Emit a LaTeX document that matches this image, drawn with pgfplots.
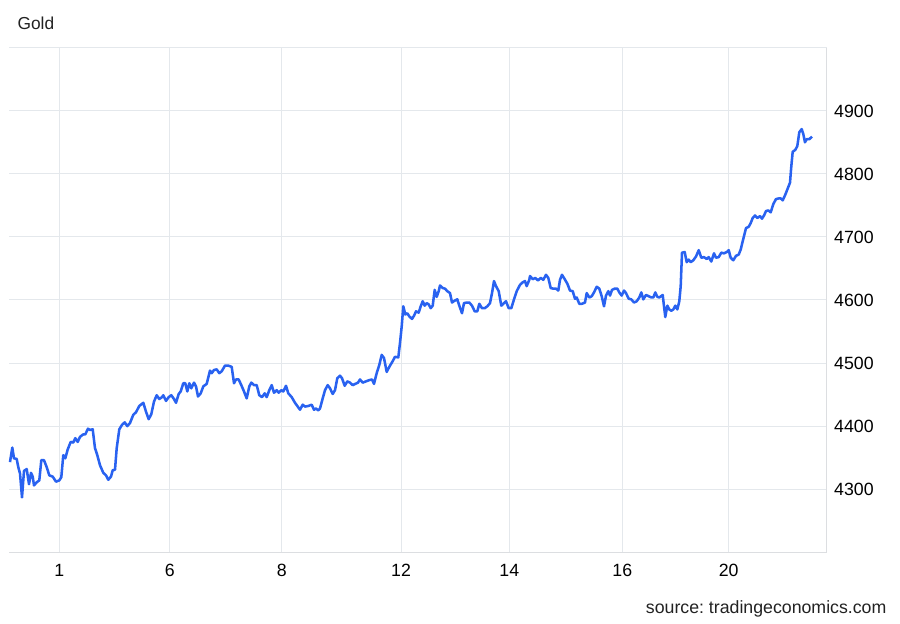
\documentclass[border=0pt]{standalone}
\usepackage{pgfplots}
\pgfplotsset{compat=1.18}
\usepackage{fontspec}
\setmainfont{Liberation Sans}
\frenchspacing
\definecolor{linec}{RGB}{41,98,240}
\definecolor{gridc}{RGB}{228,232,236}
\definecolor{axc}{RGB}{220,222,225}
\definecolor{txt}{RGB}{34,34,34}
\begin{document}
\begin{tikzpicture}
\path[use as bounding box] (0,0) rectangle (675pt,468pt);
\begin{axis}[
  at={(6.975pt,53.775pt)}, anchor=south west,
  scale only axis, width=612.9pt, height=378.45pt,
  xmin=9.3, xmax=826.5, ymin=4200, ymax=5000,
  axis x line*=bottom, axis y line*=right,
  axis line style={draw=axc, line width=0.75pt},
  x axis line style={-}, y axis line style={-},
  xtick={59.3,169.7,281.7,401,509.3,622.3,728.7},
  xticklabels={1,6,8,12,14,16,20},
  ytick={4300,4400,4500,4600,4700,4800,4900},
  extra y ticks={5000}, extra y tick labels={},
  extra y tick style={grid=major, major grid style={draw=gridc, line width=0.75pt}},
  major tick length=0pt,
  grid=major, major grid style={draw=gridc, line width=0.75pt},
  /pgf/number format/1000 sep={},
  /pgf/number format/assume math mode=true,
  tick label style={font=\fontsize{13.3}{16}\selectfont, text=black, inner sep=0pt},
  xticklabel style={anchor=base, yshift=-17.8pt},
  yticklabel style={anchor=base west, xshift=5.6pt, yshift=-4.8pt},
  clip=false,
]
\addplot[linec, line width=1.9pt, line join=round] table {
x y
10 4343
12.3 4366
14 4349
16.7 4348
18.3 4335
20 4325
22 4287
24 4329
26.7 4332
29 4308
31 4326
32.7 4320
34 4306
36.7 4311
39.3 4314
41.3 4346
44 4346
46.7 4335
49.3 4322
52.7 4320
56 4312
59.3 4314
61.3 4319
63.3 4354
65.3 4349
67.7 4363
70.7 4375
73.3 4374
75.3 4381
77.7 4375
80 4383
83.3 4387
85.3 4387
88 4396
90 4394
92.7 4395
95 4365
97.3 4354
100 4338
103.3 4326
106 4322
108.3 4315
111 4320
112.7 4330
115 4331
116.7 4365
119.3 4395
122 4402
124.7 4406
127.3 4400
130 4405
133.3 4418
136 4422
139.3 4432
143.3 4437
146 4423
148.7 4411
151.3 4419
154 4439
156.7 4449
159.3 4443
162 4446
163.3 4449
166 4440
168.7 4446
171.3 4449
174 4443
176 4437
178.7 4451
180.7 4455
183.3 4468
185.3 4468
187.3 4455
189.3 4468
191.3 4460
194 4469
196 4463
198 4447
200.7 4452
203.3 4463
206.7 4467
210 4488
211.7 4484
214 4489
216.7 4490
219.3 4484
221.7 4487
225 4496
228.3 4496
231.7 4494
234 4468
236 4474
238.7 4474
241.3 4465
244 4455
246.7 4444
249.3 4463
251.3 4469
254 4465
256.7 4465
259.3 4449
262 4446
264.7 4452
266.7 4446
269.3 4457
271.7 4465
274 4453
276.7 4457
278.7 4453
281.3 4457
283.3 4455
286 4464
288.3 4452
291.7 4446
295 4437
297.3 4432
300 4426
302.7 4434
305 4431
308.3 4432
311.7 4434
314 4426
316 4428
318.3 4425
320 4428
322.7 4444
325 4457
327.7 4465
330 4460
332.7 4451
335 4457
337.3 4476
340 4480
342 4476
344.7 4464
347.3 4471
350 4469
352.7 4465
355.3 4467
358 4469
360 4474
362.7 4469
366 4471
369.3 4473
372 4474
374 4467
376.7 4484
379.3 4497
381.7 4513
384 4508
386.7 4486
389.3 4494
392.7 4503
395 4510
398.3 4509
400 4532
401.7 4558
403.3 4590
405.3 4577
407.3 4579
409.3 4574
412 4570
414 4575
416 4582
418.7 4580
420.7 4590
422.7 4598
424.7 4591
426.7 4595
428.7 4593
430.7 4587
432.7 4591
434.7 4616
436.7 4605
438.7 4614
440 4623
442.7 4619
445 4618
447.3 4614
450 4611
452 4596
454.7 4599
457.3 4601
459.3 4591
462 4579
464 4595
466.7 4596
469.3 4596
472 4591
474.7 4582
477.3 4582
479.3 4594
482 4587
484.7 4587
487.3 4590
490 4595
492 4611
494 4630
496 4622
498.7 4614
501.3 4591
503.3 4594
506 4598
508.7 4587
511.3 4587
514 4601
516.7 4614
520 4624
522.7 4628
525 4630
526.7 4622
529.3 4632
530 4638
532.7 4633
535.3 4635
538 4631
540.7 4635
543.3 4632
546 4640
548.3 4635
550.7 4619
553.3 4618
556 4618
558.3 4615
560 4632
562 4640
564.7 4633
567.3 4626
570 4615
572.7 4614
575 4602
576.7 4604
579.3 4594
582 4594
585 4596
586.7 4611
589.3 4604
591.7 4606
594 4612
596.7 4621
599.3 4618
601.7 4606
604 4590
606 4607
608.3 4614
610 4607
612 4616
614.7 4618
617.3 4618
619.3 4612
621.7 4607
624 4615
626 4611
628.7 4602
631.3 4601
634 4596
636.7 4598
639.3 4604
641.3 4612
643.3 4601
646 4608
648.7 4606
651.3 4604
653.3 4604
655.3 4612
657.3 4605
659.3 4604
662.7 4608
664 4590
665.3 4573
667.3 4591
669.3 4585
671.3 4583
673.3 4585
675.3 4591
677.3 4585
679.3 4598
680.7 4622
682 4675
684.7 4676
686.7 4660
688.7 4664
690.7 4660
693.3 4663
696 4669
698.7 4679
701.3 4667
704 4668
706.7 4665
708.7 4668
711.3 4661
714 4674
716 4667
718.7 4668
721.3 4675
724 4674
726.7 4676
728.7 4679
730.7 4667
733.3 4663
736 4670
738.7 4672
740.7 4680
743.3 4697
746 4714
748.7 4716
750.7 4722
752.7 4730
755 4734
757.3 4730
760 4733
762 4729
764 4734
766 4741
768.3 4742
770.7 4739
773.3 4752
776 4760
778.7 4761
780.7 4761
782.7 4758
785.3 4767
788 4778
790 4786
791.3 4812
792.7 4835
795.3 4838
797.3 4844
799.3 4866
801.7 4871
803.3 4863
805 4850
806.7 4855
809.3 4855
812 4859
};
\end{axis}
\node[anchor=west, inner sep=0pt, text=txt, font=\fontsize{13}{16}\selectfont] at (13pt,450.5pt) {Gold};
\node[anchor=base east, inner sep=0pt, text=txt, font=\fontsize{13.3}{16}\selectfont] at (665pt,7.8pt) {source: tradingeconomics.com};
\end{tikzpicture}
\end{document}
